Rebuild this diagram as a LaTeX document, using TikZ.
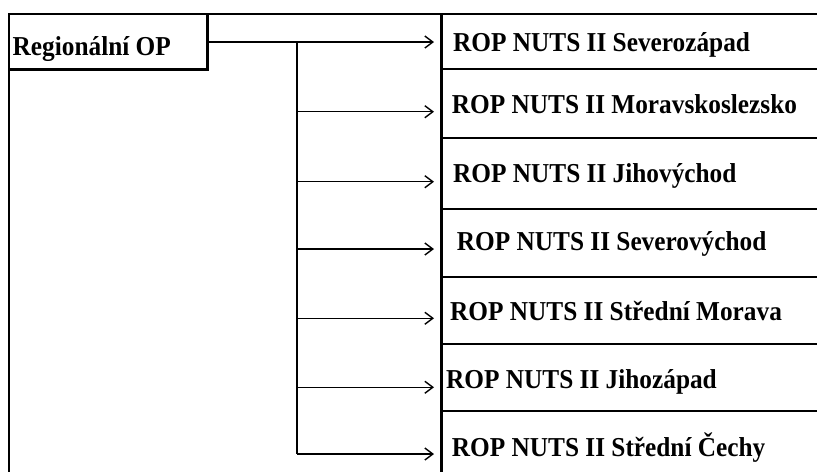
\documentclass[tikz,border=0pt]{standalone}
\usepackage{fontspec}
\setmainfont{Liberation Serif}
\usetikzlibrary{arrows.meta}
\newcommand{\tallbf}[1]{\scalebox{1}[1.08]{#1}}
\begin{document}
\begin{tikzpicture}[x=1pt,y=-1pt,
  thin line/.style={line width=1.3pt,draw=black},
  arr/.style={line width=1.3pt,-{Straight Barb[length=8pt,width=12pt,line width=1.4pt]}},
  lbl/.style={anchor=base west,inner sep=0pt,font=\bfseries\fontsize{25.3}{30}\selectfont}]
\useasboundingbox (0,0) rectangle (817,472);
% outer frame (top and left)
\draw[thin line] (817,14) -- (9,14) -- (9,472);
% box
\node[draw=none,inner sep=0pt,minimum width=198pt,minimum height=55pt,anchor=north west] (reg) at (9,14) {};
\draw[line width=2.3pt] (reg.north east) -- (reg.south east) -- (reg.south west);
\node[lbl] (regl) at (12.5,55) {\tallbf{Regionální OP}};
% right column thick line
\draw[line width=2.7pt] (441.5,14) -- (441.5,472);
% row separators
\foreach \yy in {69,138,209,277,344,411}
  \draw[thin line] (441.5,\yy) -- (817,\yy);
% target texts
\node[lbl] (t1) at (453,51.7) {\tallbf{ROP NUTS II Severozápad}};
\node[lbl] (t2) at (451.7,113.3) {\tallbf{ROP NUTS II Moravskoslezsko}};
\node[lbl] (t3) at (453,182.3) {\tallbf{ROP NUTS II Jihovýchod}};
\node[lbl] (t4) at (456.7,250) {\tallbf{ROP NUTS II Severovýchod}};
\node[lbl] (t5) at (450,320) {\tallbf{ROP NUTS II Střední Morava}};
\node[lbl] (t6) at (446,388.3) {\tallbf{ROP NUTS II Jihozápad}};
\node[lbl] (t7) at (451.7,456.7) {\tallbf{ROP NUTS II Střední Čechy}};
% junctions and arrow tips
\coordinate (j1) at (297,42);
\coordinate (j2) at (297,111.7);
\coordinate (j3) at (297,181.7);
\coordinate (j4) at (297,249);
\coordinate (j5) at (297,318.3);
\coordinate (j6) at (297,387.3);
\coordinate (j7) at (297,454);
\coordinate (a1) at (434,42);
\coordinate (a2) at (434,111.7);
\coordinate (a3) at (434,181.7);
\coordinate (a4) at (434,249);
\coordinate (a5) at (434,318.3);
\coordinate (a6) at (434,387.3);
\coordinate (a7) at (434,454);
% connectors
\draw[arr] (reg.east |- j1) -- (a1);
\draw[thin line] (j1) -- (j7);
\foreach \i in {2,...,7}
  \draw[arr] (j\i) -- (a\i);
\end{tikzpicture}
\end{document}
